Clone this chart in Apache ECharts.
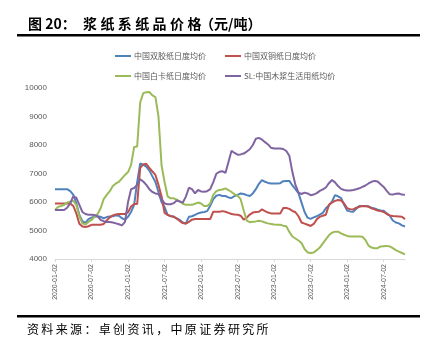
<!DOCTYPE html>
<html>
<head>
<meta charset="utf-8">
<script src="https://cdn.jsdelivr.net/npm/echarts@6/dist/echarts.min.js"></script>
<style>
html, body { margin: 0; padding: 0; background: #fff; }
#chart { width: 436px; height: 353px; }
</style>
</head>
<body>
<div id="chart"></div>
<script>
// semi-monthly dates, 2020-01-02 .. 2024-10-17
var dates = [];
for (var y = 2020; y <= 2024; y++) {
    for (var m = 1; m <= 12; m++) {
        var mm = (m < 10 ? '0' : '') + m;
        dates.push(y + '-' + mm + '-02');
        dates.push(y + '-' + mm + '-17');
    }
}
dates = dates.slice(0, 116);

var names = ['中国双胶纸日度均价', '中国双铜纸日度均价', '中国白卡纸日度均价', 'SL:中国木浆生活用纸均价'];
var colors = ['#4F81BD', '#C0504D', '#9BBB59', '#8064A2'];

var shuangjiao = [
    6450, 6450, 6450, 6450, 6450, 6380, 6260, 5950, 5550, 5330, 5270, 5400,
    5450, 5490, 5490, 5480, 5430, 5470, 5490, 5500, 5530, 5520, 5430, 5380,
    5480, 5650, 5900, 6700, 7350, 7310, 7240, 7100, 6900, 6700, 6350, 6000,
    5820, 5550, 5500, 5490, 5420, 5370, 5280, 5250, 5480, 5500, 5550, 5600,
    5630, 5650, 5680, 5870, 6100, 6220, 6250, 6210, 6210, 6160, 6140, 6210,
    6250, 6300, 6280, 6240, 6210, 6300, 6450, 6640, 6770, 6710, 6670, 6650,
    6650, 6650, 6660, 6730, 6740, 6740, 6580, 6450, 6310, 5980, 5650, 5450,
    5410, 5460, 5500, 5560, 5620, 5780, 5880, 6010, 6240, 6200, 6140, 5900,
    5700, 5670, 5660, 5760, 5860, 5860, 5860, 5840, 5800, 5770, 5730, 5700,
    5690, 5600, 5520, 5350, 5280, 5250, 5180, 5140
];
var shuangtong = [
    5950, 5950, 5950, 5950, 5950, 5950, 5860, 5600, 5240, 5140, 5120, 5150,
    5200, 5200, 5200, 5200, 5230, 5350, 5460, 5530, 5560, 5580, 5580, 5580,
    5640, 5840, 5930, 5930, 7200, 7320, 7340, 7200, 7070, 6950, 6600, 6200,
    5620, 5550, 5510, 5480, 5420, 5330, 5260, 5240, 5300, 5380, 5400, 5400,
    5400, 5400, 5400, 5400, 5660, 5660, 5660, 5680, 5660, 5620, 5580, 5560,
    5550, 5520, 5380, 5450, 5560, 5630, 5650, 5660, 5740, 5680, 5630, 5600,
    5600, 5600, 5600, 5790, 5790, 5760, 5690, 5640, 5500, 5280, 5240, 5200,
    5160, 5230, 5390, 5480, 5520, 5550, 5900, 5980, 6040, 6070, 6050, 5950,
    5780, 5750, 5740, 5800, 5830, 5860, 5850, 5840, 5780, 5740, 5700, 5680,
    5650, 5580, 5530, 5510, 5500, 5490, 5480, 5400
];
var baika = [
    5720, 5830, 5860, 5900, 5980, 6010, 6040, 5900, 5500, 5250, 5210, 5300,
    5370, 5480, 5580, 5780, 6100, 6250, 6380, 6560, 6650, 6710, 6830, 6950,
    7050, 7300, 7930, 7950, 9500, 9820, 9850, 9860, 9740, 9680, 9000, 7300,
    6700, 6200, 6130, 6130, 6080, 6020, 5940, 5900, 5900, 5900, 5940, 5980,
    5950, 5860, 5860, 5950, 6250, 6380, 6420, 6440, 6480, 6420, 6350, 6270,
    6220, 6100, 5700, 5350, 5290, 5310, 5320, 5340, 5320, 5280, 5250, 5230,
    5210, 5200, 5200, 5170, 5150, 4950, 4790, 4720, 4650, 4560, 4350, 4230,
    4210, 4230, 4310, 4400, 4550, 4690, 4830, 4920, 4960, 4960, 4900, 4850,
    4810, 4790, 4790, 4790, 4790, 4780, 4670, 4470, 4400, 4380, 4380, 4440,
    4450, 4460, 4440, 4380, 4310, 4260, 4210, 4160
];
var shenghuo = [
    5720, 5720, 5720, 5720, 5800, 5950, 6200, 6150, 5900, 5650, 5580, 5550,
    5550, 5540, 5500, 5370, 5330, 5300, 5300, 5280, 5250, 5220, 5180, 5300,
    6000, 6450, 6490, 6600, 6800, 6720, 6600, 6450, 6350, 6300, 6280, 6100,
    5950, 5920, 5920, 5960, 6050, 6020, 5980, 6190, 6500, 6450, 6300, 6420,
    6370, 6360, 6380, 6450, 6700, 6990, 7060, 7080, 7020, 7400, 7800, 7720,
    7660, 7670, 7700, 7770, 7850, 8000, 8220, 8250, 8190, 8100, 8020, 7900,
    7880, 7880, 7880, 7860, 7790, 7620, 7050, 6600, 6330, 6280, 6330, 6300,
    6240, 6260, 6310, 6390, 6440, 6510, 6660, 6770, 6690, 6560, 6460, 6420,
    6400, 6400, 6420, 6450, 6480, 6530, 6580, 6650, 6710, 6740, 6720, 6620,
    6530, 6390, 6270, 6260, 6290, 6300, 6260, 6250
];
var seriesData = [shuangjiao, shuangtong, baika, shenghuo];

var chart = echarts.init(document.getElementById('chart'));

var series = [];
for (var i = 0; i < names.length; i++) {
    series.push({
        name: names[i],
        type: 'line',
        data: seriesData[i],
        showSymbol: false,
        lineStyle: { width: 2, color: colors[i] },
        itemStyle: { color: colors[i] }
    });
}

// one legend per item, 2x2 layout like the original
var legendPos = [[110, 47], [220, 47], [110, 67], [220, 67]];
var legends = [];
for (var i = 0; i < names.length; i++) {
    legends.push({
        data: [names[i]],
        left: legendPos[i][0], top: legendPos[i][1],
        itemWidth: 16, itemHeight: 2, itemGap: 0,
        icon: 'rect',
        textStyle: { fontSize: 8, color: '#595959', fontFamily: 'Noto Sans CJK SC', padding: [0, 0, 0, -2] }
    });
}

// title and source are drawn with loose letter spacing, as in the report
var cjk = 'Noto Sans CJK SC';
var graphics = [
    { type: 'rect', shape: { x: 17, y: 34, width: 403, height: 2.5 }, style: { fill: '#000' } },
    { type: 'rect', shape: { x: 17, y: 315, width: 403, height: 2.5 }, style: { fill: '#000' } },
    { type: 'text', x: 28, y: 24, style: { text: '图 20：', fontSize: 14, fontWeight: 'bold', fill: '#000', fontFamily: cjk, verticalAlign: 'middle' } },
    { type: 'text', x: 200, y: 24, style: { text: '（元/吨）', fontSize: 14, fontWeight: 'bold', fill: '#000', fontFamily: cjk, verticalAlign: 'middle' } }
];
var t = '浆纸系纸品价格';
for (var k = 0; k < t.length; k++) {
    graphics.push({ type: 'text', x: 83 + k * 17.4, y: 24,
        style: { text: t[k], fontSize: 14, fontWeight: 'bold', fill: '#000', fontFamily: cjk, verticalAlign: 'middle' } });
}
var src = '资料来源：卓创资讯，中原证券研究所';
for (var k = 0; k < src.length; k++) {
    graphics.push({ type: 'text', x: 27 + k * 14.35, y: 329,
        style: { text: src[k], fontSize: 12, fill: '#000', fontFamily: cjk, verticalAlign: 'middle' } });
}

option = {
    animation: false,
    legend: legends,
    grid: { left: 55, right: 31, top: 88, bottom: 94 },
    xAxis: {
        type: 'category',
        data: dates,
        boundaryGap: false,
        axisLine: { lineStyle: { color: '#d9d9d9' } },
        axisTick: { show: true, interval: 11, length: 3, lineStyle: { color: '#d9d9d9' } },
        axisLabel: { interval: 11, rotate: 90, fontSize: 7, color: '#595959', margin: 5 }
    },
    yAxis: {
        type: 'value',
        min: 4000, max: 10000, interval: 1000,
        splitLine: { show: false },
        axisLine: { show: false },
        axisTick: { show: false },
        axisLabel: { fontSize: 8, color: '#595959', margin: 8, formatter: function (v) { return String(v); } }
    },
    graphic: graphics,
    series: series
};

chart.setOption(option, true);
</script>
</body>
</html>
